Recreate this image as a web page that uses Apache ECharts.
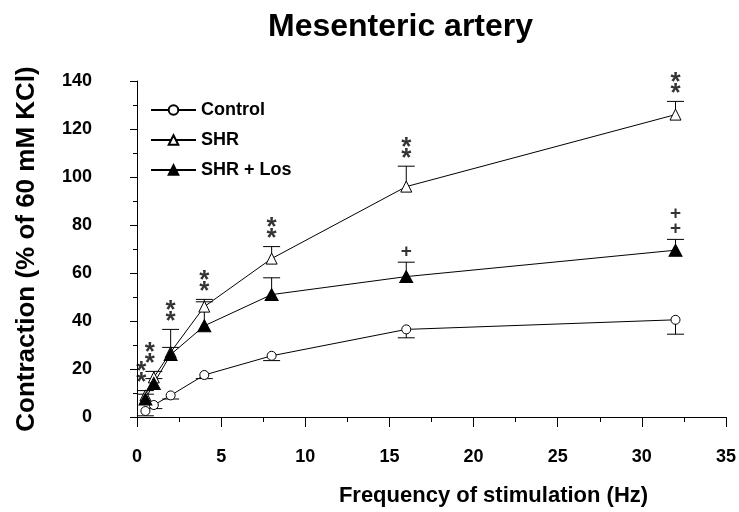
<!DOCTYPE html>
<html>
<head>
<meta charset="utf-8">
<script src="https://cdn.jsdelivr.net/npm/echarts@6/dist/echarts.min.js"></script>
<style>
  html, body { margin: 0; padding: 0; background: #fff; }
  #chart { width: 739px; height: 512px; }
</style>
</head>
<body>
<div id="chart"></div>
<script>
// frequencies (Hz)
const freq = [0.5, 1, 2, 4, 8, 16, 32];

// contraction, % of 60 mM KCl
const control = [2.5, 5, 9, 17.5, 25.5, 36.5, 40.5];
const controlErr = [2, 1.5, 1.5, 1.5, 2, 3.5, 6];
const shr = [9, 16.5, 27, 46, 66, 96, 126];
const shrErr = [2, 2.5, 2, 3, 5, 8.5, 5.5];
const shrLos = [7.5, 14, 26, 38, 51, 58.5, 69.5];
const shrLosErr = [2, 2, 10.5, 10, 7, 6, 4.5];

// significance marks
const shrMarks = ["**", "**", "**", "**", "**", "**", "**"];
const losMarks = ["", "", "", "", "", "+", "++"];

const FONT = "'Liberation Sans', Arial, sans-serif";

const chart = echarts.init(document.getElementById("chart"));

function pairs(ys) {
  return freq.map((f, i) => [f, ys[i]]);
}

// error bars: [x, from, to]
function errData(ys, errs, dir) {
  return freq.map((f, i) => [f, ys[i], ys[i] + dir * errs[i]]);
}

function renderErr(params, api) {
  const x = api.value(0);
  const p0 = api.coord([x, api.value(1)]);
  const p1 = api.coord([x, api.value(2)]);
  const style = { stroke: "#000", lineWidth: 1 };
  return {
    type: "group",
    children: [
      { type: "line", shape: { x1: p0[0], y1: p0[1], x2: p1[0], y2: p1[1] }, style: style },
      { type: "line", shape: { x1: p1[0] - 8.5, y1: p1[1], x2: p1[0] + 8.5, y2: p1[1] }, style: style }
    ]
  };
}

const shrTop = freq.map((f, i) => Math.max(shr[i] + shrErr[i], shrLos[i] + shrLosErr[i]));
const losTop = freq.map((f, i) => shrLos[i] + shrLosErr[i]);

function markData(marks, tops) {
  const out = [];
  marks.forEach((m, i) => {
    if (!m) return;
    out.push({
      value: [freq[i], tops[i]],
      label: { formatter: m.split("").join("\n"), offset: [freq[i] < 1.5 ? -4 : 0, 0] }
    });
  });
  return out;
}

const lineBase = {
  type: "line",
  z: 3,
  lineStyle: { color: "#000", width: 1 },
  emphasis: { disabled: true },
  animation: false
};

const option = {
  animation: false,
  title: {
    text: "Mesenteric artery",
    left: 263,
    top: 6,
    textStyle: { fontFamily: FONT, fontSize: 32, fontWeight: "bold", color: "#000" }
  },
  legend: {
    orient: "vertical",
    left: 150,
    top: 101,
    padding: 0,
    itemWidth: 45,
    itemHeight: 12,
    itemGap: 12,
    data: ["Control", "SHR", "SHR + Los"],
    textStyle: { fontFamily: FONT, fontSize: 18, fontWeight: "bold", color: "#000" },
    selectedMode: false
  },
  grid: { left: 137, right: 13, top: 81, bottom: 94 },
  xAxis: {
    type: "value",
    min: 0,
    max: 35,
    interval: 5,
    offset: 17,
    name: "Frequency of stimulation (Hz)",
    nameLocation: "middle",
    nameGap: 51,
    nameTextStyle: { fontFamily: FONT, fontSize: 22, fontWeight: "bold", color: "#000", padding: [0, 0, 0, 124] },
    axisLine: { lineStyle: { color: "#000", width: 1 } },
    axisTick: { length: 10, lineStyle: { color: "#000" } },
    minorTick: { show: true, splitNumber: 2, length: 5, lineStyle: { color: "#000" } },
    splitLine: { show: false },
    axisLabel: { margin: 14, fontFamily: FONT, fontSize: 18, fontWeight: "bold", color: "#000" }
  },
  yAxis: {
    type: "value",
    min: 0,
    max: 140,
    interval: 20,
    offset: 31,
    name: "Contraction (% of 60 mM KCl)",
    nameLocation: "middle",
    nameGap: 66,
    nameTextStyle: { fontFamily: FONT, fontSize: 26, fontWeight: "bold", color: "#000" },
    axisLine: { show: true, lineStyle: { color: "#000", width: 1 } },
    axisTick: { show: true, length: 7, lineStyle: { color: "#000" } },
    minorTick: { show: true, splitNumber: 2, length: 4, lineStyle: { color: "#000" } },
    splitLine: { show: false },
    axisLabel: { margin: 14, fontFamily: FONT, fontSize: 18, fontWeight: "bold", color: "#000" }
  },
  series: [
    { type: "custom", z: 1, renderItem: renderErr, data: errData(control, controlErr, -1), clip: false },
    { type: "custom", z: 1, renderItem: renderErr, data: errData(shr, shrErr, 1), clip: false },
    { type: "custom", z: 1, renderItem: renderErr, data: errData(shrLos, shrLosErr, 1), clip: false },
    Object.assign({}, lineBase, {
      name: "Control",
      data: pairs(control),
      symbol: "circle",
      symbolSize: 9,
      itemStyle: { color: "#fff", borderColor: "#000", borderWidth: 1 }
    }),
    Object.assign({}, lineBase, {
      name: "SHR",
      data: pairs(shr),
      symbol: "triangle",
      symbolSize: [11, 11],
      itemStyle: { color: "#fff", borderColor: "#000", borderWidth: 1 }
    }),
    Object.assign({}, lineBase, {
      name: "SHR + Los",
      data: pairs(shrLos),
      symbol: "triangle",
      symbolSize: [13, 12],
      itemStyle: { color: "#000", borderColor: "#000", borderWidth: 1 }
    }),
    {
      type: "scatter",
      z: 4,
      symbolSize: 0,
      silent: true,
      data: markData(shrMarks, shrTop),
      label: {
        show: true,
        position: "top",
        distance: 2,
        fontFamily: FONT,
        fontSize: 26,
        fontWeight: "bold",
        lineHeight: 11,
        color: "#000"
      }
    },
    {
      type: "scatter",
      z: 4,
      symbolSize: 0,
      silent: true,
      data: markData(losMarks, losTop),
      label: {
        show: true,
        position: "top",
        distance: 3,
        fontFamily: FONT,
        fontSize: 19,
        fontWeight: "bold",
        lineHeight: 15,
        color: "#000"
      }
    }
  ]
};

chart.setOption(option);
</script>
</body>
</html>
